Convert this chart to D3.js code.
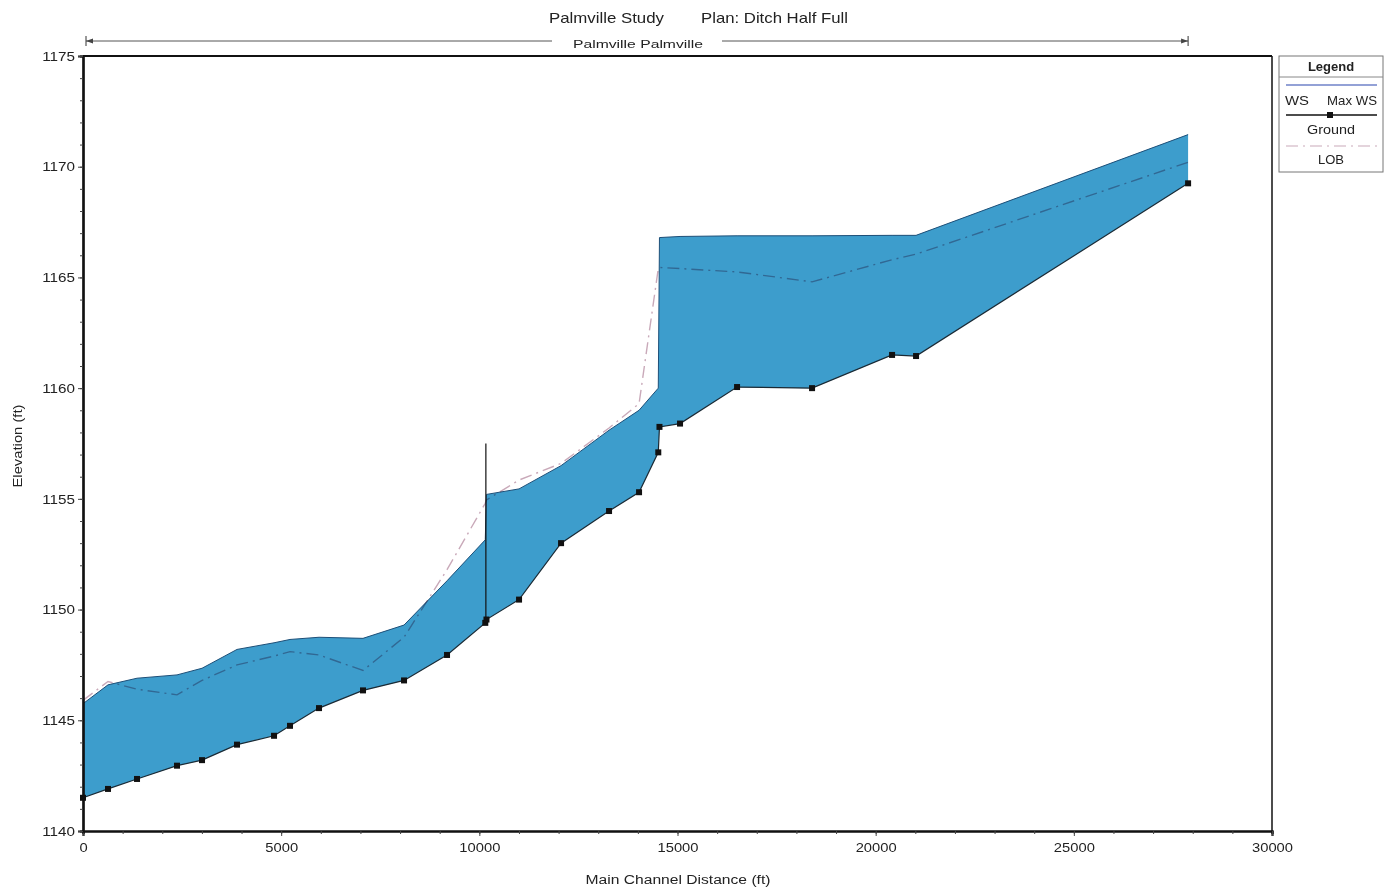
<!DOCTYPE html>
<html><head><meta charset="utf-8">
<script src="https://cdn.jsdelivr.net/npm/d3@7"></script>
<style>
html,body{margin:0;padding:0;background:#fff;}
svg text{font-family:"Liberation Sans",Arial,sans-serif;fill:#222;}
</style></head>
<body><svg id="c" width="1386" height="893"></svg>
<script>
// ---- data ----
const stations = [0, 631, 1363, 2372, 3003, 3886, 4820, 5223, 5955, 7065, 8100, 9185, 10150, 10180, 11002, 12062, 13273, 14030, 14515, 14545, 15064, 16503, 18395, 20414, 21019, 27883];
const ground   = [1141.5, 1141.9, 1142.35, 1142.95, 1143.2, 1143.9, 1144.3, 1144.75, 1145.55, 1146.35, 1146.8, 1147.95, 1149.4, 1149.55, 1150.45, 1153.0, 1154.45, 1155.3, 1157.1, 1158.25, 1158.4, 1160.05, 1160.0, 1161.5, 1161.45, 1169.25];
const ws       = [1145.75, 1146.6, 1146.9, 1147.05, 1147.35, 1148.2, 1148.5, 1148.65, 1148.75, 1148.7, 1149.3, 1151.3, 1153.15, 1155.2, 1155.45, 1156.5, 1158.1, 1159.0, 1160.0, 1166.8, 1166.85, 1166.88, 1166.88, 1166.9, 1166.9, 1171.45];
const lob      = [1145.9, 1146.75, 1146.4, 1146.15, 1146.8, 1147.5, 1147.9, 1148.1, 1147.95, 1147.25, 1148.75, 1151.8, 1154.8, 1154.95, 1155.85, 1156.6, 1158.2, 1159.3, 1165.4, 1165.45, 1165.4, 1165.25, 1164.8, 1165.8, 1166.05, 1170.2];
const structureStation = 10165, structureTop = 1157.5;
const xTicks = [0, 5000, 10000, 15000, 20000, 25000, 30000];
const yTicks = [1140, 1145, 1150, 1155, 1160, 1165, 1170, 1175];
const reachStart = 0, reachEnd = 27883;
const titleLeft = "Palmville Study", titleRight = "Plan: Ditch Half Full";
const reachLabel = "Palmville Palmville";
const legendItems = ["WS", "Max WS", "Ground", "LOB"];

// ---- layout ----
const svg = d3.select("#c");
const L = 83, R = 1272, T = 56, B = 831;
const x = d3.scaleLinear().domain([0, 30000]).range([L, R]);
const y = d3.scaleLinear().domain([1140, 1175]).range([B, T]);
const pts = stations.map((s, i) => ({s, g: ground[i], w: ws[i], l: lob[i]}));

const fillBlue = "#3d9dcc";

svg.append("path").datum(pts)
  .attr("d", d3.area().x(d => x(d.s)).y0(d => y(d.g)).y1(d => y(d.w)))
  .attr("fill", fillBlue).attr("stroke", "none");

// WS line
svg.append("path").datum(pts)
  .attr("d", d3.line().x(d => x(d.s)).y(d => y(d.w)))
  .attr("fill", "none").attr("stroke", "#1d4f78").attr("stroke-width", 1);

// LOB dash-dot line
svg.append("path").datum(pts)
  .attr("d", d3.line().x(d => x(d.s)).y(d => y(d.l)))
  .attr("fill", "none").attr("stroke", "#c9a9b9").attr("stroke-width", 1.4)
  .attr("stroke-dasharray", "12,5,2,5").style("mix-blend-mode", "multiply");

// structure line
svg.append("line")
  .attr("x1", x(structureStation)).attr("x2", x(structureStation))
  .attr("y1", y(structureTop)).attr("y2", y(1149.45))
  .attr("stroke", "#111").attr("stroke-width", 1.2);

// ground line + markers
svg.append("path").datum(pts)
  .attr("d", d3.line().x(d => x(d.s)).y(d => y(d.g)))
  .attr("fill", "none").attr("stroke", "#1a2a35").attr("stroke-width", 1.2);
svg.selectAll("rect.gm").data(pts).join("rect").attr("class", "gm")
  .attr("x", d => x(d.s) - 3).attr("y", d => y(d.g) - 3)
  .attr("width", 6).attr("height", 6).attr("fill", "#111");

// frame
svg.append("line").attr("x1", L).attr("x2", R).attr("y1", T).attr("y2", T).attr("stroke", "#111").attr("stroke-width", 2);
svg.append("line").attr("x1", R).attr("x2", R).attr("y1", T).attr("y2", B).attr("stroke", "#111").attr("stroke-width", 1.5);

// axes
const xAx = svg.append("g").attr("transform", `translate(0,${B})`)
  .call(d3.axisBottom(x).tickValues(xTicks).tickSize(5).tickPadding(7).tickFormat(d3.format("d")));
const xMinor = svg.append("g").attr("transform", `translate(0,${B})`)
  .call(d3.axisBottom(x).tickValues(d3.range(0, 30001, 1000)).tickSize(3).tickFormat(""));
const yAx = svg.append("g").attr("transform", `translate(${L},0)`)
  .call(d3.axisLeft(y).tickValues(yTicks).tickSize(5).tickPadding(3).tickFormat(d3.format("d")));
const yMinor = svg.append("g").attr("transform", `translate(${L},0)`)
  .call(d3.axisLeft(y).tickValues(d3.range(1140, 1175.1, 1)).tickSize(3).tickFormat(""));
[xAx, yAx, xMinor, yMinor].forEach(g => {
  g.select(".domain").attr("stroke", "#111").attr("stroke-width", 2.2);
  g.selectAll(".tick line").attr("stroke", "#444");
  g.selectAll("text").attr("font-size", 13).attr("fill", "#222").attr("font-family", "Liberation Sans, Arial, sans-serif")
    .attr("textLength", function() { return this.textContent.length * 8.2; })
    .attr("lengthAdjust", "spacingAndGlyphs");
});

// axis titles
svg.append("text").attr("x", 678).attr("y", 884).attr("text-anchor", "middle")
  .attr("font-size", 12.5).attr("textLength", 185).attr("lengthAdjust", "spacingAndGlyphs").text("Main Channel Distance (ft)");
svg.append("text").attr("transform", "translate(22,446) rotate(-90)").attr("text-anchor", "middle")
  .attr("font-size", 12.5).attr("textLength", 83).attr("lengthAdjust", "spacingAndGlyphs").text("Elevation (ft)");

// titles
svg.append("text").attr("x", 549).attr("y", 23).attr("font-size", 14.5).attr("textLength", 115).attr("lengthAdjust", "spacingAndGlyphs").text(titleLeft);
svg.append("text").attr("x", 701).attr("y", 23).attr("font-size", 14.5).attr("textLength", 147).attr("lengthAdjust", "spacingAndGlyphs").text(titleRight);

// reach bracket
const by = 41, bx1 = x(reachStart) + 3, bx2 = x(reachEnd);
svg.append("line").attr("x1", bx1).attr("x2", 552).attr("y1", by).attr("y2", by).attr("stroke", "#555");
svg.append("line").attr("x1", 722).attr("x2", bx2).attr("y1", by).attr("y2", by).attr("stroke", "#555");
[bx1, bx2].forEach(bx => svg.append("line").attr("x1", bx).attr("x2", bx).attr("y1", by - 5).attr("y2", by + 5).attr("stroke", "#333"));
svg.append("path").attr("d", `M${bx1},${by} l7,-2.5 l0,5 z M${bx2},${by} l-7,-2.5 l0,5 z`).attr("fill", "#444");
svg.append("text").attr("x", 638).attr("y", 48).attr("text-anchor", "middle").attr("font-size", 11).attr("textLength", 130).attr("lengthAdjust", "spacingAndGlyphs").text(reachLabel);

// legend
const lg = svg.append("g");
lg.append("rect").attr("x", 1279).attr("y", 56).attr("width", 104).attr("height", 116).attr("fill", "#fff").attr("stroke", "#777");
lg.append("text").attr("x", 1331).attr("y", 71).attr("text-anchor", "middle").attr("font-size", 13).attr("font-weight", "bold").attr("fill", "#333").text("Legend");
lg.append("line").attr("x1", 1279).attr("x2", 1383).attr("y1", 77).attr("y2", 77).attr("stroke", "#888");
lg.append("line").attr("x1", 1286).attr("x2", 1377).attr("y1", 85).attr("y2", 85).attr("stroke", "#6f82c8").attr("stroke-width", 1.5);
lg.append("text").attr("x", 1285).attr("y", 105).attr("font-size", 13).attr("textLength", 24).attr("lengthAdjust", "spacingAndGlyphs").text(legendItems[0]);
lg.append("text").attr("x", 1377).attr("y", 105).attr("text-anchor", "end").attr("font-size", 13).attr("textLength", 50).attr("lengthAdjust", "spacingAndGlyphs").text(legendItems[1]);
lg.append("line").attr("x1", 1286).attr("x2", 1377).attr("y1", 115).attr("y2", 115).attr("stroke", "#111").attr("stroke-width", 1.3);
lg.append("rect").attr("x", 1327).attr("y", 112).attr("width", 6).attr("height", 6).attr("fill", "#111");
lg.append("text").attr("x", 1331).attr("y", 134).attr("text-anchor", "middle").attr("font-size", 13).attr("textLength", 48).attr("lengthAdjust", "spacingAndGlyphs").text(legendItems[2]);
lg.append("line").attr("x1", 1286).attr("x2", 1377).attr("y1", 146).attr("y2", 146).attr("stroke", "#c9a9b9").attr("stroke-dasharray", "12,5,2,5");
lg.append("text").attr("x", 1331).attr("y", 164).attr("text-anchor", "middle").attr("font-size", 13).text(legendItems[3]);
</script></body></html>
